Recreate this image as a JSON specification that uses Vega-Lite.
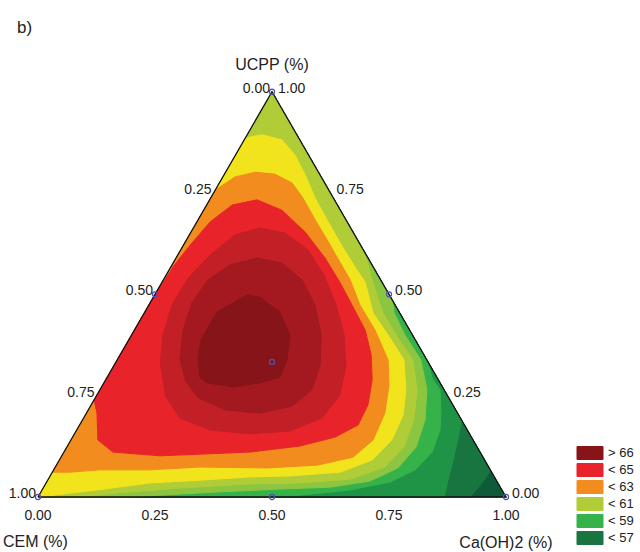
{
  "$schema": "https://vega.github.io/schema/vega-lite/v6.json",
  "width": 640,
  "height": 552,
  "padding": 0,
  "autosize": {"type": "none"},
  "background": "white",
  "config": {"view": {"stroke": null}, "font": "Liberation Sans"},
  "datasets": {
    "contours": [
      {"band": "< 56", "i": 0, "x": 0, "y": 0},
      {"band": "< 56", "i": 1, "x": 1, "y": 0},
      {"band": "< 56", "i": 2, "x": 0.5, "y": 0.866},

      {"band": "< 57", "i": 0, "x": 0.5, "y": 0.866},
      {"band": "< 57", "i": 1, "x": 0.9667, "y": 0.0577},
      {"band": "< 57", "i": 2, "x": 0.957, "y": 0.041},
      {"band": "< 57", "i": 3, "x": 0.94, "y": 0.019},
      {"band": "< 57", "i": 4, "x": 0.923, "y": 0},
      {"band": "< 57", "i": 5, "x": 0, "y": 0},

      {"band": "< 58", "i": 0, "x": 0.5, "y": 0.866},
      {"band": "< 58", "i": 1, "x": 0.905, "y": 0.1645},
      {"band": "< 58", "i": 2, "x": 0.897, "y": 0.122},
      {"band": "< 58", "i": 3, "x": 0.887, "y": 0.079},
      {"band": "< 58", "i": 4, "x": 0.876, "y": 0.036},
      {"band": "< 58", "i": 5, "x": 0.868, "y": 0},
      {"band": "< 58", "i": 6, "x": 0, "y": 0},

      {"band": "< 59", "i": 0, "x": 0.5, "y": 0.866},
      {"band": "< 59", "i": 1, "x": 0.831, "y": 0.2927},
      {"band": "< 59", "i": 2, "x": 0.844, "y": 0.25},
      {"band": "< 59", "i": 3, "x": 0.859, "y": 0.229},
      {"band": "< 59", "i": 4, "x": 0.861, "y": 0.186},
      {"band": "< 59", "i": 5, "x": 0.859, "y": 0.143},
      {"band": "< 59", "i": 6, "x": 0.842, "y": 0.096},
      {"band": "< 59", "i": 7, "x": 0.806, "y": 0.058},
      {"band": "< 59", "i": 8, "x": 0.752, "y": 0.032},
      {"band": "< 59", "i": 9, "x": 0.667, "y": 0.015},
      {"band": "< 59", "i": 10, "x": 0.56, "y": 0.004},
      {"band": "< 59", "i": 11, "x": 0.474, "y": 0},
      {"band": "< 59", "i": 12, "x": 0, "y": 0},

      {"band": "< 60", "i": 0, "x": 0.5, "y": 0.866},
      {"band": "< 60", "i": 1, "x": 0.757, "y": 0.421},
      {"band": "< 60", "i": 2, "x": 0.761, "y": 0.393},
      {"band": "< 60", "i": 3, "x": 0.784, "y": 0.346},
      {"band": "< 60", "i": 4, "x": 0.818, "y": 0.293},
      {"band": "< 60", "i": 5, "x": 0.831, "y": 0.229},
      {"band": "< 60", "i": 6, "x": 0.827, "y": 0.165},
      {"band": "< 60", "i": 7, "x": 0.808, "y": 0.107},
      {"band": "< 60", "i": 8, "x": 0.769, "y": 0.062},
      {"band": "< 60", "i": 9, "x": 0.709, "y": 0.034},
      {"band": "< 60", "i": 10, "x": 0.624, "y": 0.021},
      {"band": "< 60", "i": 11, "x": 0.517, "y": 0.017},
      {"band": "< 60", "i": 12, "x": 0.389, "y": 0.011},
      {"band": "< 60", "i": 13, "x": 0.261, "y": 0.004},
      {"band": "< 60", "i": 14, "x": 0.197, "y": 0},
      {"band": "< 60", "i": 15, "x": 0, "y": 0},

      {"band": "< 61", "i": 0, "x": 0.5, "y": 0.866},
      {"band": "< 61", "i": 1, "x": 0.683, "y": 0.549},
      {"band": "< 61", "i": 2, "x": 0.701, "y": 0.511},
      {"band": "< 61", "i": 3, "x": 0.714, "y": 0.464},
      {"band": "< 61", "i": 4, "x": 0.737, "y": 0.393},
      {"band": "< 61", "i": 5, "x": 0.769, "y": 0.34},
      {"band": "< 61", "i": 6, "x": 0.801, "y": 0.293},
      {"band": "< 61", "i": 7, "x": 0.81, "y": 0.229},
      {"band": "< 61", "i": 8, "x": 0.803, "y": 0.165},
      {"band": "< 61", "i": 9, "x": 0.782, "y": 0.107},
      {"band": "< 61", "i": 10, "x": 0.741, "y": 0.064},
      {"band": "< 61", "i": 11, "x": 0.667, "y": 0.038},
      {"band": "< 61", "i": 12, "x": 0.56, "y": 0.03},
      {"band": "< 61", "i": 13, "x": 0.453, "y": 0.028},
      {"band": "< 61", "i": 14, "x": 0.303, "y": 0.019},
      {"band": "< 61", "i": 15, "x": 0.175, "y": 0.009},
      {"band": "< 61", "i": 16, "x": 0.09, "y": 0},
      {"band": "< 61", "i": 17, "x": 0, "y": 0},

      {"band": "< 62", "i": 0, "x": 0.443, "y": 0.767},
      {"band": "< 62", "i": 1, "x": 0.479, "y": 0.774},
      {"band": "< 62", "i": 2, "x": 0.521, "y": 0.763},
      {"band": "< 62", "i": 3, "x": 0.549, "y": 0.731},
      {"band": "< 62", "i": 4, "x": 0.571, "y": 0.688},
      {"band": "< 62", "i": 5, "x": 0.592, "y": 0.639},
      {"band": "< 62", "i": 6, "x": 0.62, "y": 0.588},
      {"band": "< 62", "i": 7, "x": 0.652, "y": 0.532},
      {"band": "< 62", "i": 8, "x": 0.679, "y": 0.489},
      {"band": "< 62", "i": 9, "x": 0.699, "y": 0.459},
      {"band": "< 62", "i": 10, "x": 0.716, "y": 0.393},
      {"band": "< 62", "i": 11, "x": 0.748, "y": 0.346},
      {"band": "< 62", "i": 12, "x": 0.782, "y": 0.293},
      {"band": "< 62", "i": 13, "x": 0.786, "y": 0.229},
      {"band": "< 62", "i": 14, "x": 0.78, "y": 0.175},
      {"band": "< 62", "i": 15, "x": 0.756, "y": 0.122},
      {"band": "< 62", "i": 16, "x": 0.714, "y": 0.079},
      {"band": "< 62", "i": 17, "x": 0.645, "y": 0.053},
      {"band": "< 62", "i": 18, "x": 0.538, "y": 0.045},
      {"band": "< 62", "i": 19, "x": 0.453, "y": 0.043},
      {"band": "< 62", "i": 20, "x": 0.346, "y": 0.036},
      {"band": "< 62", "i": 21, "x": 0.239, "y": 0.03},
      {"band": "< 62", "i": 22, "x": 0.126, "y": 0.015},
      {"band": "< 62", "i": 23, "x": 0, "y": 0},

      {"band": "< 63", "i": 0, "x": 0.379, "y": 0.656},
      {"band": "< 63", "i": 1, "x": 0.421, "y": 0.684},
      {"band": "< 63", "i": 2, "x": 0.464, "y": 0.694},
      {"band": "< 63", "i": 3, "x": 0.506, "y": 0.69},
      {"band": "< 63", "i": 4, "x": 0.543, "y": 0.671},
      {"band": "< 63", "i": 5, "x": 0.566, "y": 0.639},
      {"band": "< 63", "i": 6, "x": 0.59, "y": 0.596},
      {"band": "< 63", "i": 7, "x": 0.618, "y": 0.549},
      {"band": "< 63", "i": 8, "x": 0.645, "y": 0.502},
      {"band": "< 63", "i": 9, "x": 0.667, "y": 0.464},
      {"band": "< 63", "i": 10, "x": 0.688, "y": 0.41},
      {"band": "< 63", "i": 11, "x": 0.72, "y": 0.357},
      {"band": "< 63", "i": 12, "x": 0.748, "y": 0.293},
      {"band": "< 63", "i": 13, "x": 0.75, "y": 0.239},
      {"band": "< 63", "i": 14, "x": 0.741, "y": 0.179},
      {"band": "< 63", "i": 15, "x": 0.716, "y": 0.122},
      {"band": "< 63", "i": 16, "x": 0.673, "y": 0.085},
      {"band": "< 63", "i": 17, "x": 0.596, "y": 0.068},
      {"band": "< 63", "i": 18, "x": 0.489, "y": 0.062},
      {"band": "< 63", "i": 19, "x": 0.346, "y": 0.064},
      {"band": "< 63", "i": 20, "x": 0.239, "y": 0.058},
      {"band": "< 63", "i": 21, "x": 0.132, "y": 0.058},
      {"band": "< 63", "i": 22, "x": 0.068, "y": 0.053},
      {"band": "< 63", "i": 23, "x": 0.031, "y": 0.053},

      {"band": "< 65", "i": 0, "x": 0.255, "y": 0.442},
      {"band": "< 65", "i": 1, "x": 0.12, "y": 0.207},
      {"band": "< 65", "i": 2, "x": 0.126, "y": 0.179},
      {"band": "< 65", "i": 3, "x": 0.128, "y": 0.122},
      {"band": "< 65", "i": 4, "x": 0.16, "y": 0.096},
      {"band": "< 65", "i": 5, "x": 0.261, "y": 0.088},
      {"band": "< 65", "i": 6, "x": 0.453, "y": 0.096},
      {"band": "< 65", "i": 7, "x": 0.56, "y": 0.109},
      {"band": "< 65", "i": 8, "x": 0.635, "y": 0.128},
      {"band": "< 65", "i": 9, "x": 0.684, "y": 0.154},
      {"band": "< 65", "i": 10, "x": 0.705, "y": 0.197},
      {"band": "< 65", "i": 11, "x": 0.714, "y": 0.25},
      {"band": "< 65", "i": 12, "x": 0.712, "y": 0.303},
      {"band": "< 65", "i": 13, "x": 0.699, "y": 0.357},
      {"band": "< 65", "i": 14, "x": 0.671, "y": 0.41},
      {"band": "< 65", "i": 15, "x": 0.645, "y": 0.459},
      {"band": "< 65", "i": 16, "x": 0.613, "y": 0.511},
      {"band": "< 65", "i": 17, "x": 0.571, "y": 0.566},
      {"band": "< 65", "i": 18, "x": 0.521, "y": 0.613},
      {"band": "< 65", "i": 19, "x": 0.468, "y": 0.635},
      {"band": "< 65", "i": 20, "x": 0.415, "y": 0.624},
      {"band": "< 65", "i": 21, "x": 0.368, "y": 0.588},
      {"band": "< 65", "i": 22, "x": 0.325, "y": 0.538},
      {"band": "< 65", "i": 23, "x": 0.286, "y": 0.489},

      {"band": "< 65.5", "i": 0, "x": 0.261, "y": 0.282},
      {"band": "< 65.5", "i": 1, "x": 0.267, "y": 0.346},
      {"band": "< 65.5", "i": 2, "x": 0.286, "y": 0.41},
      {"band": "< 65.5", "i": 3, "x": 0.321, "y": 0.468},
      {"band": "< 65.5", "i": 4, "x": 0.368, "y": 0.517},
      {"band": "< 65.5", "i": 5, "x": 0.421, "y": 0.56},
      {"band": "< 65.5", "i": 6, "x": 0.474, "y": 0.575},
      {"band": "< 65.5", "i": 7, "x": 0.528, "y": 0.564},
      {"band": "< 65.5", "i": 8, "x": 0.577, "y": 0.528},
      {"band": "< 65.5", "i": 9, "x": 0.611, "y": 0.474},
      {"band": "< 65.5", "i": 10, "x": 0.637, "y": 0.41},
      {"band": "< 65.5", "i": 11, "x": 0.654, "y": 0.346},
      {"band": "< 65.5", "i": 12, "x": 0.658, "y": 0.282},
      {"band": "< 65.5", "i": 13, "x": 0.645, "y": 0.218},
      {"band": "< 65.5", "i": 14, "x": 0.607, "y": 0.169},
      {"band": "< 65.5", "i": 15, "x": 0.538, "y": 0.141},
      {"band": "< 65.5", "i": 16, "x": 0.453, "y": 0.135},
      {"band": "< 65.5", "i": 17, "x": 0.368, "y": 0.143},
      {"band": "< 65.5", "i": 18, "x": 0.303, "y": 0.169},
      {"band": "< 65.5", "i": 19, "x": 0.271, "y": 0.218},

      {"band": "< 66", "i": 0, "x": 0.303, "y": 0.293},
      {"band": "< 66", "i": 1, "x": 0.31, "y": 0.357},
      {"band": "< 66", "i": 2, "x": 0.329, "y": 0.415},
      {"band": "< 66", "i": 3, "x": 0.363, "y": 0.464},
      {"band": "< 66", "i": 4, "x": 0.41, "y": 0.496},
      {"band": "< 66", "i": 5, "x": 0.468, "y": 0.511},
      {"band": "< 66", "i": 6, "x": 0.521, "y": 0.5},
      {"band": "< 66", "i": 7, "x": 0.564, "y": 0.464},
      {"band": "< 66", "i": 8, "x": 0.592, "y": 0.41},
      {"band": "< 66", "i": 9, "x": 0.605, "y": 0.346},
      {"band": "< 66", "i": 10, "x": 0.603, "y": 0.282},
      {"band": "< 66", "i": 11, "x": 0.585, "y": 0.229},
      {"band": "< 66", "i": 12, "x": 0.543, "y": 0.194},
      {"band": "< 66", "i": 13, "x": 0.474, "y": 0.179},
      {"band": "< 66", "i": 14, "x": 0.4, "y": 0.186},
      {"band": "< 66", "i": 15, "x": 0.342, "y": 0.212},
      {"band": "< 66", "i": 16, "x": 0.314, "y": 0.25},

      {"band": "> 66", "i": 0, "x": 0.346, "y": 0.331},
      {"band": "> 66", "i": 1, "x": 0.382, "y": 0.395},
      {"band": "> 66", "i": 2, "x": 0.447, "y": 0.432},
      {"band": "> 66", "i": 3, "x": 0.474, "y": 0.427},
      {"band": "> 66", "i": 4, "x": 0.517, "y": 0.395},
      {"band": "> 66", "i": 5, "x": 0.538, "y": 0.346},
      {"band": "> 66", "i": 6, "x": 0.532, "y": 0.293},
      {"band": "> 66", "i": 7, "x": 0.517, "y": 0.256},
      {"band": "> 66", "i": 8, "x": 0.474, "y": 0.244},
      {"band": "> 66", "i": 9, "x": 0.417, "y": 0.235},
      {"band": "> 66", "i": 10, "x": 0.361, "y": 0.244},
      {"band": "> 66", "i": 11, "x": 0.346, "y": 0.256},
      {"band": "> 66", "i": 12, "x": 0.342, "y": 0.299}
    ],
    "frame": [
      {"i": 0, "x": 0, "y": 0},
      {"i": 1, "x": 1, "y": 0},
      {"i": 2, "x": 0.5, "y": 0.866},
      {"i": 3, "x": 0, "y": 0}
    ],
    "design": [
      {"x": 0, "y": 0},
      {"x": 1, "y": 0},
      {"x": 0.5, "y": 0.866},
      {"x": 0.5, "y": 0},
      {"x": 0.75, "y": 0.433},
      {"x": 0.25, "y": 0.433},
      {"x": 0.5, "y": 0.2887}
    ],
    "leftTicks": [
      {"label": "0.00", "x": 0.5, "y": 0.866},
      {"label": "0.25", "x": 0.375, "y": 0.6495},
      {"label": "0.50", "x": 0.25, "y": 0.433},
      {"label": "0.75", "x": 0.125, "y": 0.2165},
      {"label": "1.00", "x": 0, "y": 0}
    ],
    "rightTicks": [
      {"label": "1.00", "x": 0.5, "y": 0.866},
      {"label": "0.75", "x": 0.625, "y": 0.6495},
      {"label": "0.50", "x": 0.75, "y": 0.433},
      {"label": "0.25", "x": 0.875, "y": 0.2165},
      {"label": "0.00", "x": 1, "y": 0}
    ],
    "bottomTicks": [
      {"label": "0.00", "x": 0, "y": 0},
      {"label": "0.25", "x": 0.25, "y": 0},
      {"label": "0.50", "x": 0.5, "y": 0},
      {"label": "0.75", "x": 0.75, "y": 0},
      {"label": "1.00", "x": 1, "y": 0}
    ]
  },
  "layer": [
    {
      "data": {"name": "contours"},
      "mark": {"type": "line", "strokeWidth": 1},
      "encoding": {
        "x": {"field": "x", "type": "quantitative", "scale": {"domain": [-0.0812, 1.2863], "nice": false, "zero": false}, "axis": null},
        "y": {"field": "y", "type": "quantitative", "scale": {"domain": [-0.1175, 1.062], "nice": false, "zero": false}, "axis": null},
        "order": {"field": "i", "type": "quantitative"},
        "fill": {
          "field": "band",
          "type": "nominal",
          "scale": {
            "domain": ["< 56", "< 57", "< 58", "< 59", "< 60", "< 61", "< 62", "< 63", "< 65", "< 65.5", "< 66", "> 66"],
            "range": ["#0f5a38", "#187540", "#1f9446", "#35b34a", "#8cc540", "#b0cd37", "#f2e41c", "#f28c1e", "#e8232a", "#c21f26", "#a3191f", "#861419"]
          },
          "legend": {
            "values": ["> 66", "< 65", "< 63", "< 61", "< 59", "< 57"],
            "title": null,
            "orient": "none",
            "legendX": 570,
            "legendY": 446,
            "padding": 0,
            "symbolType": "M0,-1H4V1H0Z",
            "symbolSize": 169,
            "symbolStrokeColor": "#222",
            "symbolStrokeWidth": 1,
            "symbolOpacity": 1,
            "clipHeight": 14,
            "labelFont": "Liberation Sans",
            "labelFontSize": 13,
            "labelColor": "#222",
            "labelOffset": 24,
            "rowPadding": 3
          }
        },
        "stroke": {
          "field": "band",
          "type": "nominal",
          "scale": {
            "domain": ["< 56", "< 57", "< 58", "< 59", "< 60", "< 61", "< 62", "< 63", "< 65", "< 65.5", "< 66", "> 66"],
            "range": ["#0f5a38", "#187540", "#1f9446", "#35b34a", "#8cc540", "#b0cd37", "#f2e41c", "#f28c1e", "#e8232a", "#c21f26", "#a3191f", "#861419"]
          },
          "legend": null
        }
      }
    },
    {
      "data": {"name": "frame"},
      "mark": {"type": "line", "stroke": "#111", "strokeWidth": 1.3},
      "encoding": {
        "x": {"field": "x", "type": "quantitative", "scale": {"domain": [-0.0812, 1.2863], "nice": false, "zero": false}, "axis": null},
        "y": {"field": "y", "type": "quantitative", "scale": {"domain": [-0.1175, 1.062], "nice": false, "zero": false}, "axis": null},
        "order": {"field": "i", "type": "quantitative"}
      }
    },
    {
      "data": {"name": "design"},
      "mark": {"type": "point", "shape": "circle", "filled": false, "size": 26, "stroke": "#5050b0", "strokeWidth": 1.2, "opacity": 1},
      "encoding": {
        "x": {"field": "x", "type": "quantitative", "scale": {"domain": [-0.0812, 1.2863], "nice": false, "zero": false}, "axis": null},
        "y": {"field": "y", "type": "quantitative", "scale": {"domain": [-0.1175, 1.062], "nice": false, "zero": false}, "axis": null}
      }
    },
    {
      "data": {"name": "leftTicks"},
      "mark": {"type": "text", "align": "right", "baseline": "middle", "dx": -2, "dy": -3, "fontSize": 14, "color": "#222"},
      "encoding": {
        "x": {"field": "x", "type": "quantitative", "scale": {"domain": [-0.0812, 1.2863], "nice": false, "zero": false}, "axis": null},
        "y": {"field": "y", "type": "quantitative", "scale": {"domain": [-0.1175, 1.062], "nice": false, "zero": false}, "axis": null},
        "text": {"field": "label", "type": "nominal"}
      }
    },
    {
      "data": {"name": "rightTicks"},
      "mark": {"type": "text", "align": "left", "baseline": "middle", "dx": 6, "dy": -3, "fontSize": 14, "color": "#222"},
      "encoding": {
        "x": {"field": "x", "type": "quantitative", "scale": {"domain": [-0.0812, 1.2863], "nice": false, "zero": false}, "axis": null},
        "y": {"field": "y", "type": "quantitative", "scale": {"domain": [-0.1175, 1.062], "nice": false, "zero": false}, "axis": null},
        "text": {"field": "label", "type": "nominal"}
      }
    },
    {
      "data": {"name": "bottomTicks"},
      "mark": {"type": "text", "align": "center", "baseline": "middle", "dy": 19, "fontSize": 14, "color": "#222"},
      "encoding": {
        "x": {"field": "x", "type": "quantitative", "scale": {"domain": [-0.0812, 1.2863], "nice": false, "zero": false}, "axis": null},
        "y": {"field": "y", "type": "quantitative", "scale": {"domain": [-0.1175, 1.062], "nice": false, "zero": false}, "axis": null},
        "text": {"field": "label", "type": "nominal"}
      }
    },
    {
      "data": {"values": [{"label": "UCPP (%)", "x": 0.5, "y": 0.866}]},
      "mark": {"type": "text", "align": "center", "baseline": "middle", "dy": -27, "fontSize": 16, "color": "#222"},
      "encoding": {
        "x": {"field": "x", "type": "quantitative", "scale": {"domain": [-0.0812, 1.2863], "nice": false, "zero": false}, "axis": null},
        "y": {"field": "y", "type": "quantitative", "scale": {"domain": [-0.1175, 1.062], "nice": false, "zero": false}, "axis": null},
        "text": {"field": "label", "type": "nominal"}
      }
    },
    {
      "data": {"values": [{"label": "CEM (%)", "x": 0, "y": 0}]},
      "mark": {"type": "text", "align": "left", "baseline": "middle", "dx": -35, "dy": 45, "fontSize": 16, "color": "#222"},
      "encoding": {
        "x": {"field": "x", "type": "quantitative", "scale": {"domain": [-0.0812, 1.2863], "nice": false, "zero": false}, "axis": null},
        "y": {"field": "y", "type": "quantitative", "scale": {"domain": [-0.1175, 1.062], "nice": false, "zero": false}, "axis": null},
        "text": {"field": "label", "type": "nominal"}
      }
    },
    {
      "data": {"values": [{"label": "Ca(OH)2 (%)", "x": 1, "y": 0}]},
      "mark": {"type": "text", "align": "center", "baseline": "middle", "dy": 46, "fontSize": 16, "color": "#222"},
      "encoding": {
        "x": {"field": "x", "type": "quantitative", "scale": {"domain": [-0.0812, 1.2863], "nice": false, "zero": false}, "axis": null},
        "y": {"field": "y", "type": "quantitative", "scale": {"domain": [-0.1175, 1.062], "nice": false, "zero": false}, "axis": null},
        "text": {"field": "label", "type": "nominal"}
      }
    },
    {
      "data": {"values": [{"label": "b)", "x": -0.045, "y": 0.991}]},
      "mark": {"type": "text", "align": "left", "baseline": "alphabetic", "fontSize": 17, "color": "#222"},
      "encoding": {
        "x": {"field": "x", "type": "quantitative", "scale": {"domain": [-0.0812, 1.2863], "nice": false, "zero": false}, "axis": null},
        "y": {"field": "y", "type": "quantitative", "scale": {"domain": [-0.1175, 1.062], "nice": false, "zero": false}, "axis": null},
        "text": {"field": "label", "type": "nominal"}
      }
    }
  ]
}
